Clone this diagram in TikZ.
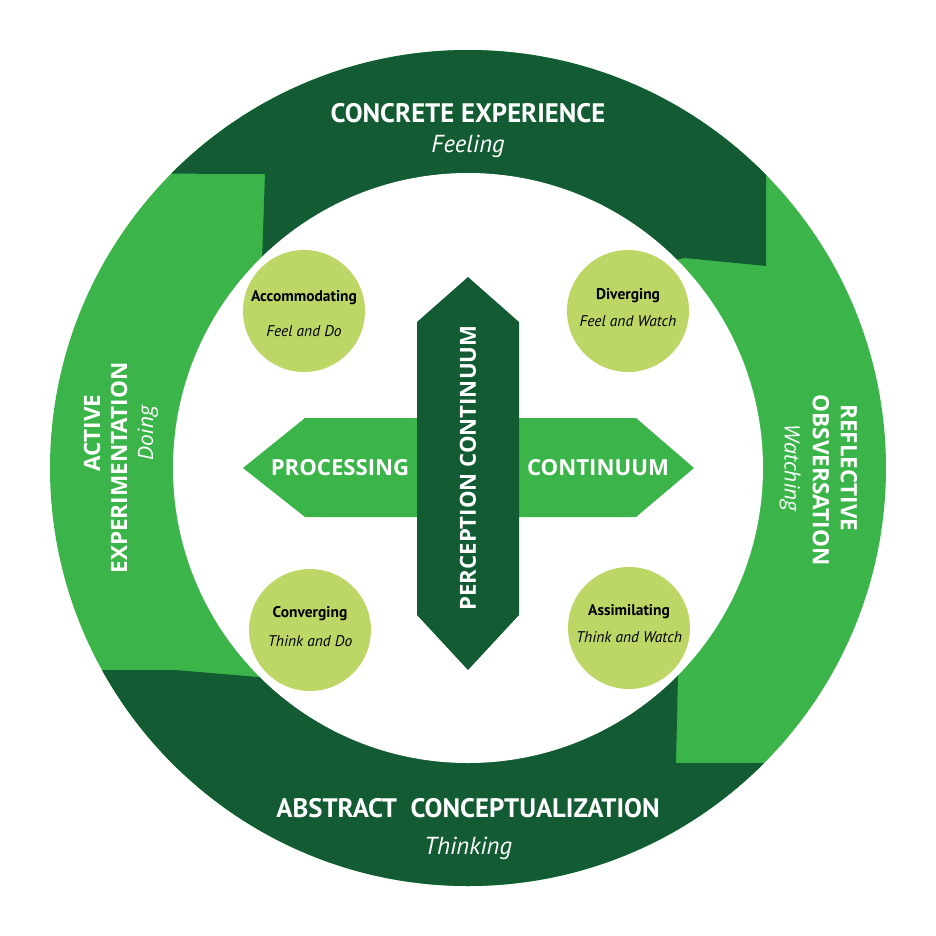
\documentclass[tikz,border=0pt]{standalone}
\usepackage{fontspec}
\setmainfont{PT Sans}
\newfontfamily\wide{Open Sans}
\definecolor{dk}{HTML}{135C33}
\definecolor{lt}{HTML}{3BB54A}
\definecolor{pl}{HTML}{BDD766}
\begin{document}
\begin{tikzpicture}[x=0.01cm,y=-0.01cm,
  pale/.style={circle,fill=pl,minimum size=122*0.01cm,inner sep=0},
  ttl/.style={text=white,font=\fontsize{7.6}{8}\selectfont\bfseries},
  sub/.style={text=white,font=\fontsize{7}{8}\selectfont\itshape},
  side/.style={text=white,font=\wide\fontsize{6.4}{7}\selectfont\bfseries},
  sidei/.style={text=white,font=\wide\fontsize{6}{7}\selectfont\itshape},
  arr/.style={text=white,font=\wide\fontsize{6.3}{7}\selectfont\bfseries},
  ci/.style={font=\fontsize{4.4}{5}\selectfont\bfseries},
  cs/.style={font=\fontsize{4.4}{5}\selectfont\itshape}]
\useasboundingbox (0,0) rectangle (936,936);
\fill[lt] (468,468) circle (418*0.01cm);
\begin{scope}
\clip (468,468) circle (418*0.01cm);
\fill[dk] (0,0)--(936,0)--(936,175)--(766,175)--(766,266)--(685,258)--(468,300)--(262,262)--(265,174)--(0,173)--cycle;
\fill[dk] (0,936)--(936,936)--(936,763)--(676,763)--(678,675)--(468,640)--(258,677)--(175,670)--(0,670)--cycle;
\end{scope}
\fill[white] (468,468) circle (295*0.01cm);
\fill[lt] (243,468)--(305,418)--(636,418)--(694,468)--(636,517)--(305,517)--cycle;
\fill[dk] (468,277)--(519,322)--(519,615)--(468,670)--(417,615)--(417,322)--cycle;
\node[pale] (acc) at (304,311) {};
\node[pale] (div) at (628,311) {};
\node[pale] (con) at (310,630) {};
\node[pale] (ass) at (629,628) {};
\node[ci] at (304,298) {Accommodating};
\node[cs] at (304,331) {Feel and Do};
\node[ci] at (628,296) {Diverging};
\node[cs] at (628,321) {Feel and Watch};
\node[ci] at (310,614) {Converging};
\node[cs] at (310,641) {Think and Do};
\node[ci] at (629,612) {Assimilating};
\node[cs] at (629,637) {Think and Watch};
\node[ttl] (ce) at (468,113) {CONCRETE EXPERIENCE};
\node[sub] at (468,146) {Feeling};
\node[ttl] (ac) at (468,808) {ABSTRACT\ \ CONCEPTUALIZATION};
\node[sub] at (468,848) {Thinking};
\node[side,rotate=90] at (92,433) {ACTIVE};
\node[side,rotate=90] at (119,468) {EXPERIMENTATION};
\node[sidei,rotate=90] at (148,433) {Doing};
\node[side,rotate=-90] at (849,468) {REFLECTIVE};
\node[side,rotate=-90] at (821,480) {OBSVERSATION};
\node[sidei,rotate=-90] at (790,468) {Watching};
\node[arr,rotate=90] at (468,468) {PERCEPTION CONTINUUM};
\node[arr] at (340,468) {PROCESSING};
\node[arr] at (598,468) {CONTINUUM};
\end{tikzpicture}
\end{document}
